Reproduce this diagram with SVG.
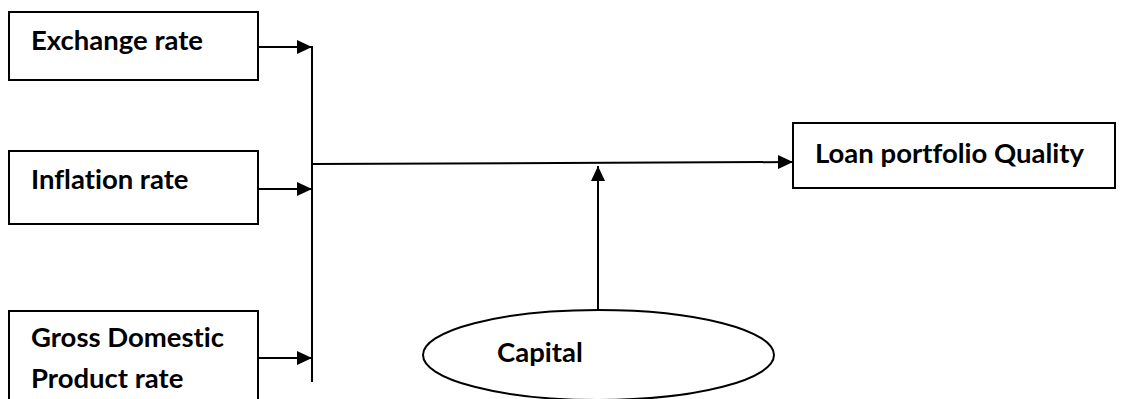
<svg xmlns="http://www.w3.org/2000/svg" width="1122" height="399" viewBox="0 0 1122 399">
<style>
.box{fill:#fff;stroke:#000;stroke-width:2}
.lbl{font-family:Lato,"Open Sans",sans-serif;font-weight:bold;font-size:27.5px;fill:#000;font-variant-ligatures:none;font-feature-settings:"liga" 0,"dlig" 0}
.ln{stroke:#000;stroke-width:2;fill:none}
</style>
<defs>
<marker id="ah" markerUnits="userSpaceOnUse" markerWidth="16" markerHeight="14" refX="15" refY="7" orient="auto">
<path d="M0,0 L15,7 L0,14 z" fill="#000"/>
</marker>
</defs>
<g id="exchange">
<rect class="box" x="9" y="12" width="249" height="68"/>
<text class="lbl" x="31" y="50">Exchange rate</text>
</g>
<g id="inflation">
<rect class="box" x="9" y="151" width="249" height="73"/>
<text class="lbl" x="31" y="189">Inflation rate</text>
</g>
<g id="gdp">
<rect class="box" x="9" y="311" width="249" height="100"/>
<text class="lbl" x="31" y="347">Gross Domestic</text>
<text class="lbl" x="31" y="388">Product rate</text>
</g>
<g id="loan">
<rect class="box" x="793" y="123" width="322" height="65"/>
<text class="lbl" x="815" y="163">Loan portfolio Quality</text>
</g>
<g id="capital">
<ellipse class="box" cx="598.5" cy="355" rx="175.5" ry="45"/>
<text class="lbl" x="497" y="362">Capital</text>
</g>
<g id="connectors">
<line class="ln" x1="258" y1="47" x2="312" y2="47" marker-end="url(#ah)"/>
<line class="ln" x1="258" y1="189" x2="312" y2="189" marker-end="url(#ah)"/>
<line class="ln" x1="258" y1="358" x2="312" y2="358" marker-end="url(#ah)"/>
<line class="ln" x1="312" y1="46" x2="312" y2="382"/>
<line class="ln" x1="312" y1="164" x2="793" y2="162" marker-end="url(#ah)"/>
<line class="ln" x1="598" y1="310" x2="598" y2="166" marker-end="url(#ah)"/>
</g>
</svg>
